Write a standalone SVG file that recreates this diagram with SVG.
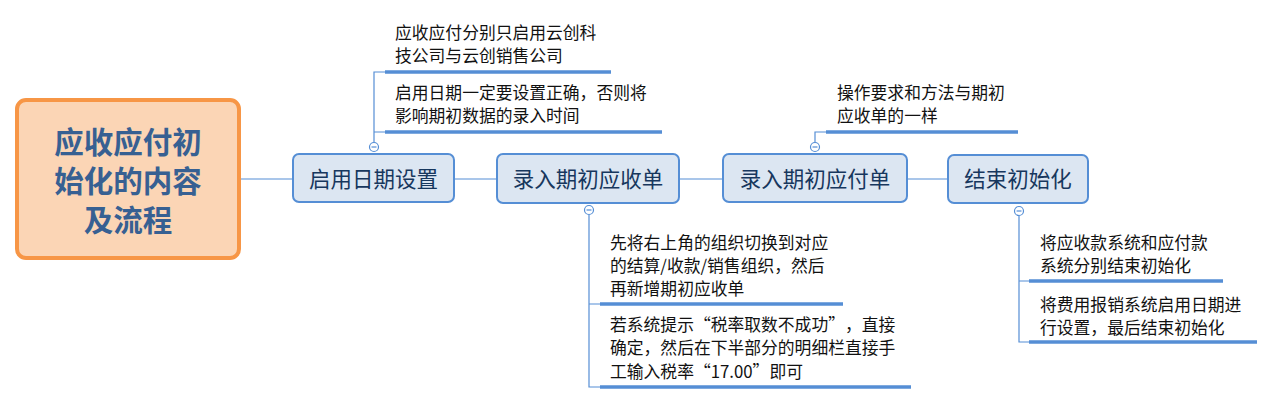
<svg xmlns="http://www.w3.org/2000/svg" width="1274" height="404" viewBox="0 0 1274 404">
<style>
text{text-spacing-trim:space-all}
.root{fill:#FBD5B5;stroke:#F79646;stroke-width:4}
.rt{font-family:"Noto Sans CJK SC","Microsoft YaHei",sans-serif;font-size:29.5px;font-weight:bold;fill:#376092;text-anchor:middle}
.node{fill:#DCE6F2;stroke:#558ED5;stroke-width:2}
.nt{font-family:"Noto Sans CJK SC",sans-serif;font-size:21.5px;fill:#17375E;text-anchor:middle}
.st{font-family:"Noto Sans CJK SC",sans-serif;font-size:16.8px;fill:#111}
.ln{stroke:#558ED5;stroke-width:1.2;fill:none}
.ul{stroke:#558ED5;stroke-width:3.5;fill:none}
.cc{fill:#fff;stroke:#558ED5;stroke-width:1.2}
</style>
<rect width="1274" height="404" fill="#fff"/>
<g id="connectors">
<path class="ln" d="M239 179H293M454 179H497M679 179H723M907 179H948"/>
<path class="ln" d="M374 142V72H385M374 132H385"/>
<path class="ln" d="M589 215V387H600M589 304H600"/>
<path class="ln" d="M815 142V132H826"/>
<path class="ln" d="M1019 216V342H1029M1019 281H1029"/>
<path class="ul" d="M385 72H611M385 132H662M600 304H843M600 387H911M826 132H1018M1029 281H1223M1029 342H1257"/>
<g id="toggles">
<circle class="cc" cx="374" cy="147" r="4.5"/><path class="ln" d="M371.5 147H376.5"/>
<circle class="cc" cx="589" cy="210" r="4.5"/><path class="ln" d="M586.5 210H591.5"/>
<circle class="cc" cx="815" cy="147" r="4.5"/><path class="ln" d="M812.5 147H817.5"/>
<circle class="cc" cx="1019" cy="211" r="4.5"/><path class="ln" d="M1016.5 211H1021.5"/>
</g>
</g>
<g id="root">
<rect class="root" x="17" y="100" width="222" height="158" rx="9"/>
<text class="rt" x="128" y="153">应收应付初</text>
<text class="rt" x="128" y="192">始化的内容</text>
<text class="rt" x="128" y="231">及流程</text>
</g>
<g id="n1">
<rect class="node" x="293" y="154" width="161" height="48" rx="6"/>
<text class="nt" x="373.5" y="187">启用日期设置</text>
</g>
<g id="n2">
<rect class="node" x="497" y="154" width="182" height="49" rx="6"/>
<text class="nt" x="588" y="187">录入期初应收单</text>
</g>
<g id="n3">
<rect class="node" x="723" y="154" width="184" height="48" rx="6"/>
<text class="nt" x="815" y="187">录入期初应付单</text>
</g>
<g id="n4">
<rect class="node" x="948" y="155" width="140" height="48" rx="6"/>
<text class="nt" x="1018" y="187">结束初始化</text>
</g>
<g id="s1a">
<text class="st" x="395" y="39">应收应付分别只启用云创科</text>
<text class="st" x="395" y="62">技公司与云创销售公司</text>
</g>
<g id="s1b">
<text class="st" x="395" y="99">启用日期一定要设置正确，否则将</text>
<text class="st" x="395" y="122">影响期初数据的录入时间</text>
</g>
<g id="s3a">
<text class="st" x="837" y="99">操作要求和方法与期初</text>
<text class="st" x="837" y="122">应收单的一样</text>
</g>
<g id="s2a">
<text class="st" x="610" y="249">先将右上角的组织切换到对应</text>
<text class="st" x="610" y="272">的结算/收款/销售组织，然后</text>
<text class="st" x="610" y="295">再新增期初应收单</text>
</g>
<g id="s2b">
<text class="st" x="610" y="331">若系统提示“税率取数不成功”，直接</text>
<text class="st" x="610" y="354">确定，然后在下半部分的明细栏直接手</text>
<text class="st" x="610" y="378">工输入税率“17.00”即可</text>
</g>
<g id="s4a">
<text class="st" x="1040" y="249">将应收款系统和应付款</text>
<text class="st" x="1040" y="272">系统分别结束初始化</text>
</g>
<g id="s4b">
<text class="st" x="1040" y="311">将费用报销系统启用日期进</text>
<text class="st" x="1040" y="334">行设置，最后结束初始化</text>
</g>
</svg>
